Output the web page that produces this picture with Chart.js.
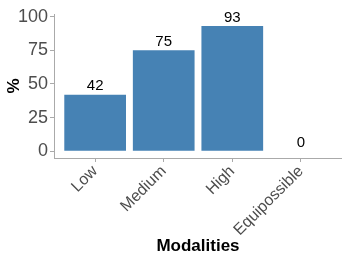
<!DOCTYPE html>
<html>
<head>
<meta charset="utf-8">
<script src="https://cdn.jsdelivr.net/npm/chart.js@4/dist/chart.umd.min.js"></script>
<style>
  html, body { margin: 0; padding: 0; background: #fff; }
  #wrap { width: 342px; height: 257px; }
</style>
</head>
<body>
<div id="wrap"><canvas id="chart"></canvas></div>
<script>
const categories = ['Low', 'Medium', 'High', 'Equipossible']
const values = [42, 75, 93, 0]
const yTicks = [0, 25, 50, 75, 100]

const ctx = document.getElementById('chart').getContext('2d')

// value labels above each bar
const barLabels = {
    id: 'barLabels',
    afterDatasetsDraw(chart) {
        const c = chart.ctx
        const meta = chart.getDatasetMeta(0)
        c.save()
        c.font = '15px "Liberation Sans", Arial, sans-serif'
        c.fillStyle = '#000'
        c.textAlign = 'center'
        c.textBaseline = 'bottom'
        meta.data.forEach((bar, i) => {
            c.fillText(values[i], bar.x, bar.y - 1)
        })
        c.restore()
    }
}

new Chart(ctx, {
    type: 'bar',
    data: {
        datasets: [{
            data: values.map((v, i) => ({ x: i, y: v })),
            backgroundColor: '#4682B4',
            borderWidth: 0,
            categoryPercentage: 0.9,
            barPercentage: 1.0
        }]
    },
    options: {
        responsive: true,
        maintainAspectRatio: false,
        animation: false,
        layout: { padding: { top: 14, right: 0, left: 4, bottom: 0 } },
        plugins: {
            legend: { display: false },
            tooltip: { enabled: false }
        },
        scales: {
            x: {
                type: 'linear',
                offset: false,
                min: -0.6,
                max: 3.6,
                afterBuildTicks: (scale) => {
                    scale.ticks = categories.map((c, i) => ({ value: i }))
                },
                afterFit: (scale) => { scale.height = 99 },
                ticks: {
                    callback: (v) => categories[v],
                    minRotation: 45,
                    maxRotation: 45,
                    color: '#4d4d4d',
                    font: { family: '"Liberation Sans", Arial, sans-serif', size: 16 },
                    padding: 0
                },
                grid: { offset: false, drawOnChartArea: false, drawTicks: true, tickLength: 4, color: '#aaaaaa' },
                border: { display: true, color: '#aaaaaa', width: 1 },
                title: {
                    display: true,
                    text: 'Modalities',
                    color: '#000',
                    font: { family: '"Liberation Sans", Arial, sans-serif', size: 17, weight: 'bold' },
                    padding: { top: 0, bottom: 0 }
                }
            },
            y: {
                min: -5,
                max: 102,
                afterBuildTicks: (scale) => {
                    scale.ticks = yTicks.map(v => ({ value: v }))
                },
                afterFit: (scale) => { scale.width = 50 },
                ticks: {
                    color: '#4d4d4d',
                    font: { family: '"Liberation Sans", Arial, sans-serif', size: 18 },
                    padding: 2
                },
                grid: { drawOnChartArea: false, drawTicks: true, tickLength: 4, color: '#aaaaaa' },
                border: { display: true, color: '#aaaaaa', width: 1 },
                title: {
                    display: true,
                    text: '%',
                    color: '#000',
                    font: { family: '"Liberation Sans", Arial, sans-serif', size: 17, weight: 'bold' },
                    padding: { top: 0, bottom: 0 }
                }
            }
        }
    },
    plugins: [barLabels]
})
</script>
</body>
</html>
